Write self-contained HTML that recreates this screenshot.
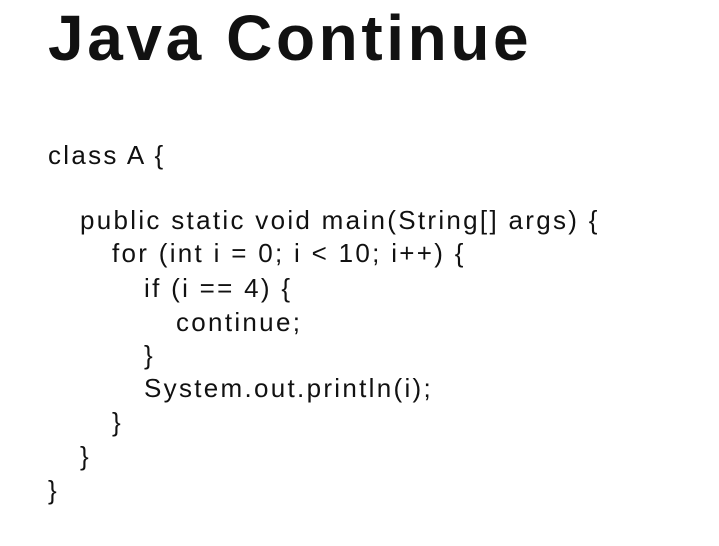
<!DOCTYPE html>
<html><head><meta charset="utf-8"><style>
html,body{margin:0;padding:0;background:#fff;}
body{width:719px;height:546px;position:relative;overflow:hidden;font-family:"Liberation Sans",sans-serif;color:#111;}
.t{position:absolute;left:48px;top:-2px;font-size:64px;font-weight:bold;line-height:80px;letter-spacing:3.6px;white-space:nowrap;}
.l{position:absolute;font-size:26px;line-height:34px;letter-spacing:2.3px;white-space:nowrap;}
</style></head><body>
<div class="t">Java Continue</div>
<div class="l" style="left:48px;top:138px">class A {</div>
<div class="l" style="left:80px;top:203px">public static void main(String[] args) {</div>
<div class="l" style="left:112px;top:236px">for (int i = 0; i &lt; 10; i++) {</div>
<div class="l" style="left:144px;top:271px">if (i == 4) {</div>
<div class="l" style="left:176px;top:305px">continue;</div>
<div class="l" style="left:144px;top:338px">}</div>
<div class="l" style="left:144px;top:371px">System.out.println(i);</div>
<div class="l" style="left:112px;top:405px">}</div>
<div class="l" style="left:80px;top:439px">}</div>
<div class="l" style="left:48px;top:473px">}</div>
</body></html>
